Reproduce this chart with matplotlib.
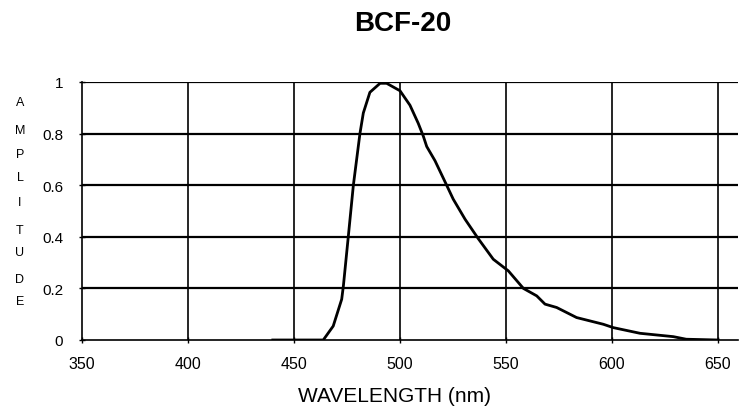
import matplotlib
matplotlib.use("Agg")
import matplotlib.pyplot as plt

plt.rcParams['font.family'] = ['Liberation Sans', 'DejaVu Sans']

wavelength = [440, 463.8, 468.5, 472.5, 473.3, 475.6, 478.0, 481.1, 482.7, 485.8, 490.6,
              493.7, 500.0, 504.7, 508.6, 511.0, 512.6, 516.5, 522.0, 525.1, 530.7,
              536.9, 544.0, 551.1, 558.2, 564.5, 568.4, 573.9, 583.3, 595.9, 600.6,
              613.2, 628.9, 635.0, 650.0]
amplitude = [0.0, 0.0, 0.054, 0.158, 0.21, 0.40, 0.60, 0.80, 0.88, 0.96, 0.995,
             0.995, 0.966, 0.91, 0.84, 0.79, 0.75, 0.695, 0.60, 0.546, 0.468,
             0.393, 0.313, 0.268, 0.20, 0.171, 0.139, 0.126, 0.087, 0.061, 0.048,
             0.026, 0.013, 0.003, 0.0]

x_ticks = [350, 400, 450, 500, 550, 600, 650]
y_ticks = [0, 0.2, 0.4, 0.6, 0.8, 1.0]
y_tick_labels = ['0', '0.2', '0.4', '0.6', '0.8', '1']
title = 'BCF-20'
x_label = 'WAVELENGTH (nm)'
y_label = 'AMPLITUDE'

W, H = 739, 410
fig = plt.figure(figsize=(W / 100, H / 100), dpi=100)
ax = fig.add_axes([82 / W, 1 - 341 / H, (738 - 82) / W, (341 - 83) / H])

ax.set_xlim(350, 350 + (738 - 82) / 2.12)
ax.set_ylim(0, 1)

for xv in x_ticks[1:]:
    ax.axvline(xv, color='black', lw=1.2, zorder=1)
for yv in y_ticks[1:]:
    ax.axhline(yv, color='black', lw=1.6, zorder=1)

ax.plot(wavelength, amplitude, color='black', lw=2.0, zorder=3)

ax.set_xticks(x_ticks)
ax.set_xticklabels([str(v) for v in x_ticks], fontsize=11.5)
ax.set_yticks(y_ticks)
ax.set_yticklabels(y_tick_labels, fontsize=11)
ax.tick_params(axis='x', direction='inout', length=5, width=1, pad=9)
ax.tick_params(axis='y', direction='inout', length=5, width=1, pad=11)

for s in ['top', 'right']:
    ax.spines[s].set_visible(False)
for s in ['left', 'bottom']:
    ax.spines[s].set_linewidth(1.2)

fig.text(403 / W, 1 - 24 / H, title, ha='center', va='center',
         fontsize=20, fontweight='bold')
fig.text(395 / W, 1 - 397 / H, x_label, ha='center', va='center', fontsize=15)

letter_y = [103, 131, 155, 178, 203, 231, 253, 280, 302]
for ch, yy in zip(y_label, letter_y):
    fig.text(20 / W, 1 - yy / H, ch, ha='center', va='center', fontsize=9)

fig.savefig('out.png', dpi=100)
